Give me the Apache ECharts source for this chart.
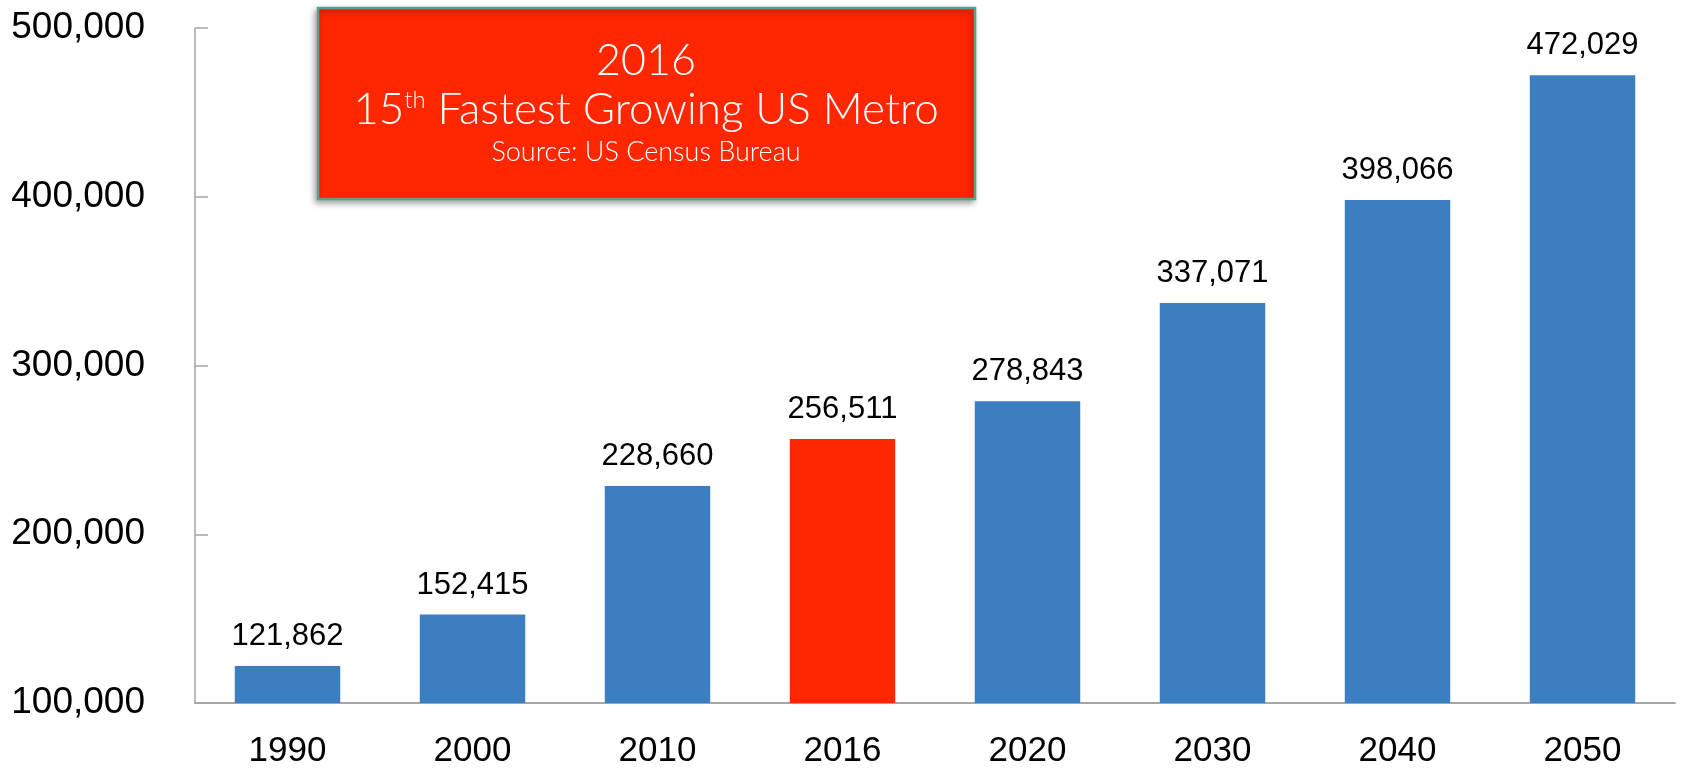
<!DOCTYPE html>
<html>
<head>
<meta charset="utf-8" />
<title>Metro population</title>
<script src="https://cdn.jsdelivr.net/npm/echarts@6/dist/echarts.min.js"></script>
<style>
  html, body { margin: 0; padding: 0; background: #fff; }
  #chart { width: 1685px; height: 773px; }
</style>
</head>
<body>
<div id="chart"></div>
<script>
// population by year
const years = ["1990", "2000", "2010", "2016", "2020", "2030", "2040", "2050"];
const population = [121862, 152415, 228660, 256511, 278843, 337071, 398066, 472029];
const highlightYear = "2016";

const fmt = (v) => v.toLocaleString("en-US");

const chart = echarts.init(document.getElementById("chart"));

const option = {
  animation: false,
  grid: { left: 195, right: 10, top: 28, bottom: 70 },
  xAxis: {
    type: "category",
    data: years,
    axisLine: { lineStyle: { color: "#a6a6a6", width: 2 } },
    axisTick: { show: false },
    axisLabel: {
      color: "#000",
      fontSize: 35,
      fontFamily: "Liberation Sans, Arial, sans-serif",
      margin: 31,
    },
  },
  yAxis: {
    type: "value",
    min: 100000,
    max: 500000,
    interval: 100000,
    splitLine: { show: false },
    axisLine: { show: true, lineStyle: { color: "#a6a6a6", width: 1.5 } },
    axisTick: { show: true, inside: true, length: 13, lineStyle: { color: "#a6a6a6", width: 1.5 } },
    axisLabel: {
      color: "#000",
      fontSize: 37,
      fontFamily: "Liberation Sans, Arial, sans-serif",
      margin: 50,
      formatter: fmt,
    },
  },
  series: [
    {
      type: "bar",
      barWidth: "57%",
      data: population.map((v, i) => ({
        value: v,
        itemStyle: { color: years[i] === highlightYear ? "#FF2600" : "#3B7FC0" },
      })),
      label: {
        show: true,
        position: "top",
        distance: 14,
        color: "#000",
        fontSize: 31,
        fontFamily: "Liberation Sans, Arial, sans-serif",
        formatter: (p) => fmt(p.value),
      },
    },
  ],
  graphic: [
    {
      type: "rect",
      shape: { x: 318, y: 8, width: 657, height: 191 },
      style: {
        fill: "#FF2600",
        stroke: "#5A9E94",
        lineWidth: 2.5,
        shadowBlur: 6,
        shadowOffsetX: -2,
        shadowOffsetY: 3,
        shadowColor: "rgba(0,0,0,0.35)",
      },
      z: 10,
    },
    {
      type: "text",
      x: 646,
      y: 61,
      style: {
        text: "2016",
        fill: "#fff",
        font: "300 43px Lato, sans-serif",
        textAlign: "center",
        textVerticalAlign: "middle",
      },
      z: 11,
    },
    {
      type: "text",
      x: 646,
      y: 110,
      style: {
        text: "15{sup|th} Fastest Growing US Metro",
        fill: "#fff",
        fontFamily: "Lato, sans-serif",
        fontWeight: 300,
        fontSize: 44,
        textAlign: "center",
        textVerticalAlign: "middle",
        rich: {
          sup: { fontSize: 24, fontFamily: "Lato, sans-serif", fontWeight: 300, fill: "#fff", verticalAlign: "top", lineHeight: 44 },
        },
      },
      z: 11,
    },
    {
      type: "text",
      x: 646,
      y: 152,
      style: {
        text: "Source: US Census Bureau",
        fill: "#fff",
        font: "300 27px Lato, sans-serif",
        textAlign: "center",
        textVerticalAlign: "middle",
      },
      z: 11,
    },
  ],
};

chart.setOption(option);
</script>
</body>
</html>
